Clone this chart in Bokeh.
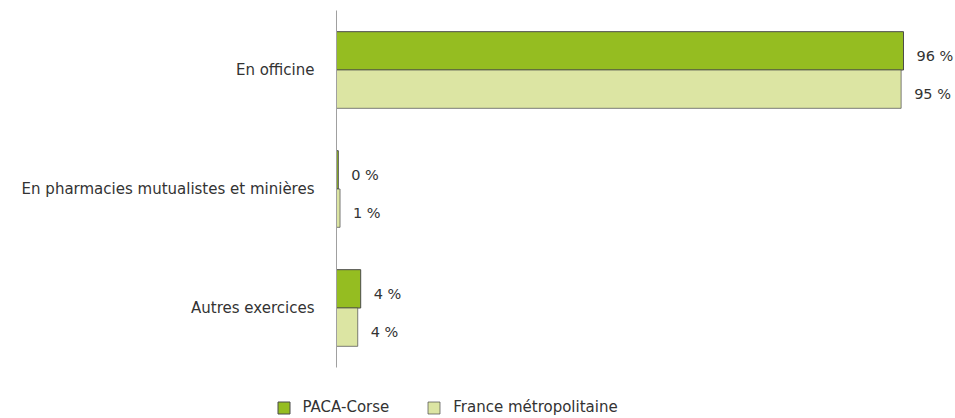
from bokeh.plotting import figure
from bokeh.layouts import column
from bokeh.models import FactorRange, Range1d, ColumnDataSource, Legend, LegendItem
from bokeh.transform import dodge
from bokeh.core.properties import value
from bokeh.embed import file_html
from bokeh.resources import INLINE

categories = ["En officine", "En pharmacies mutualistes et minières", "Autres exercices"]
paca = [96.1, 0.3, 4.1]
france = [95.7, 0.6, 3.6]
paca_labels = ["96 %", "0 %", "4 %"]
france_labels = ["95 %", "1 %", "4 %"]
series_names = ["PACA-Corse", "France métropolitaine"]

GREEN = "#95bd21"
LIGHT = "#dce5a3"
OUTLINE = "#4a4a4a"
TEXT = "#333333"
FONT = "DejaVu Sans"
FS = "15px"

src = ColumnDataSource(dict(cat=categories, paca=paca, france=france,
                            pl=paca_labels, fl=france_labels))

p = figure(width=955, height=370, output_backend="svg", toolbar_location=None,
           y_range=FactorRange(*reversed(categories)), x_range=Range1d(0, 619 / 5.9),
           min_border_left=336, min_border_right=0, min_border_top=10, min_border_bottom=3)
p.outline_line_color = None
p.xgrid.visible = False
p.ygrid.visible = False
p.xaxis.visible = False
yax = p.yaxis[0]
yax.axis_line_color = "#a0a0a0"
yax.axis_line_width = 1
yax.major_tick_line_color = None
yax.minor_tick_line_color = None
yax.major_label_standoff = 16
yax.major_label_text_font = FONT
yax.major_label_text_font_size = FS
yax.major_label_text_color = TEXT

r1 = p.hbar(y=dodge("cat", 0.161, range=p.y_range), left=0, right="paca", height=0.322,
            source=src, fill_color=GREEN, line_color=OUTLINE, line_width=1)
r2 = p.hbar(y=dodge("cat", -0.161, range=p.y_range), left=0, right="france", height=0.322,
            source=src, fill_color=LIGHT, line_color=OUTLINE, line_alpha=0.7, line_width=1)

p.text(x="paca", y=dodge("cat", 0.161, range=p.y_range), text="pl", source=src,
       x_offset=13, y_offset=5, text_baseline="middle", text_font=value(FONT),
       text_font_size="14.5px", text_color=TEXT)
p.text(x="france", y=dodge("cat", -0.161, range=p.y_range), text="fl", source=src,
       x_offset=13, y_offset=5, text_baseline="middle", text_font=value(FONT),
       text_font_size="14.5px", text_color=TEXT)

# legend strip below the chart (same series, hidden renderers, legend only)
lf = figure(width=955, height=48, output_backend="svg", toolbar_location=None,
            y_range=FactorRange(*reversed(categories)), x_range=Range1d(0, 100),
            min_border_left=0, min_border_right=0, min_border_top=0, min_border_bottom=0)
if hasattr(lf, "frame_align"):
    lf.frame_align = False
    p.frame_align = False
lf.outline_line_color = None
lf.axis.visible = False
lf.grid.visible = False
l1 = lf.hbar(y="cat", right="paca", height=0.3, source=src, fill_color=GREEN,
             line_color=OUTLINE, visible=False)
l2 = lf.hbar(y="cat", right="france", height=0.3, source=src, fill_color=LIGHT,
             line_color=OUTLINE, line_alpha=0.7, visible=False)

legend = Legend(items=[LegendItem(label=series_names[0], renderers=[l1]),
                       LegendItem(label=series_names[1], renderers=[l2])],
                orientation="horizontal", location=(275.5, 2),
                glyph_width=15, glyph_height=15, label_height=15, label_standoff=12,
                spacing=37, padding=0, margin=0, border_line_alpha=0,
                background_fill_alpha=0, label_text_font=FONT,
                inactive_fill_alpha=0,
                label_text_font_size=FS, label_text_color=TEXT)
lf.add_layout(legend)

layout = column(p, lf, spacing=0)
open("out.html", "w").write(file_html(layout, INLINE))
